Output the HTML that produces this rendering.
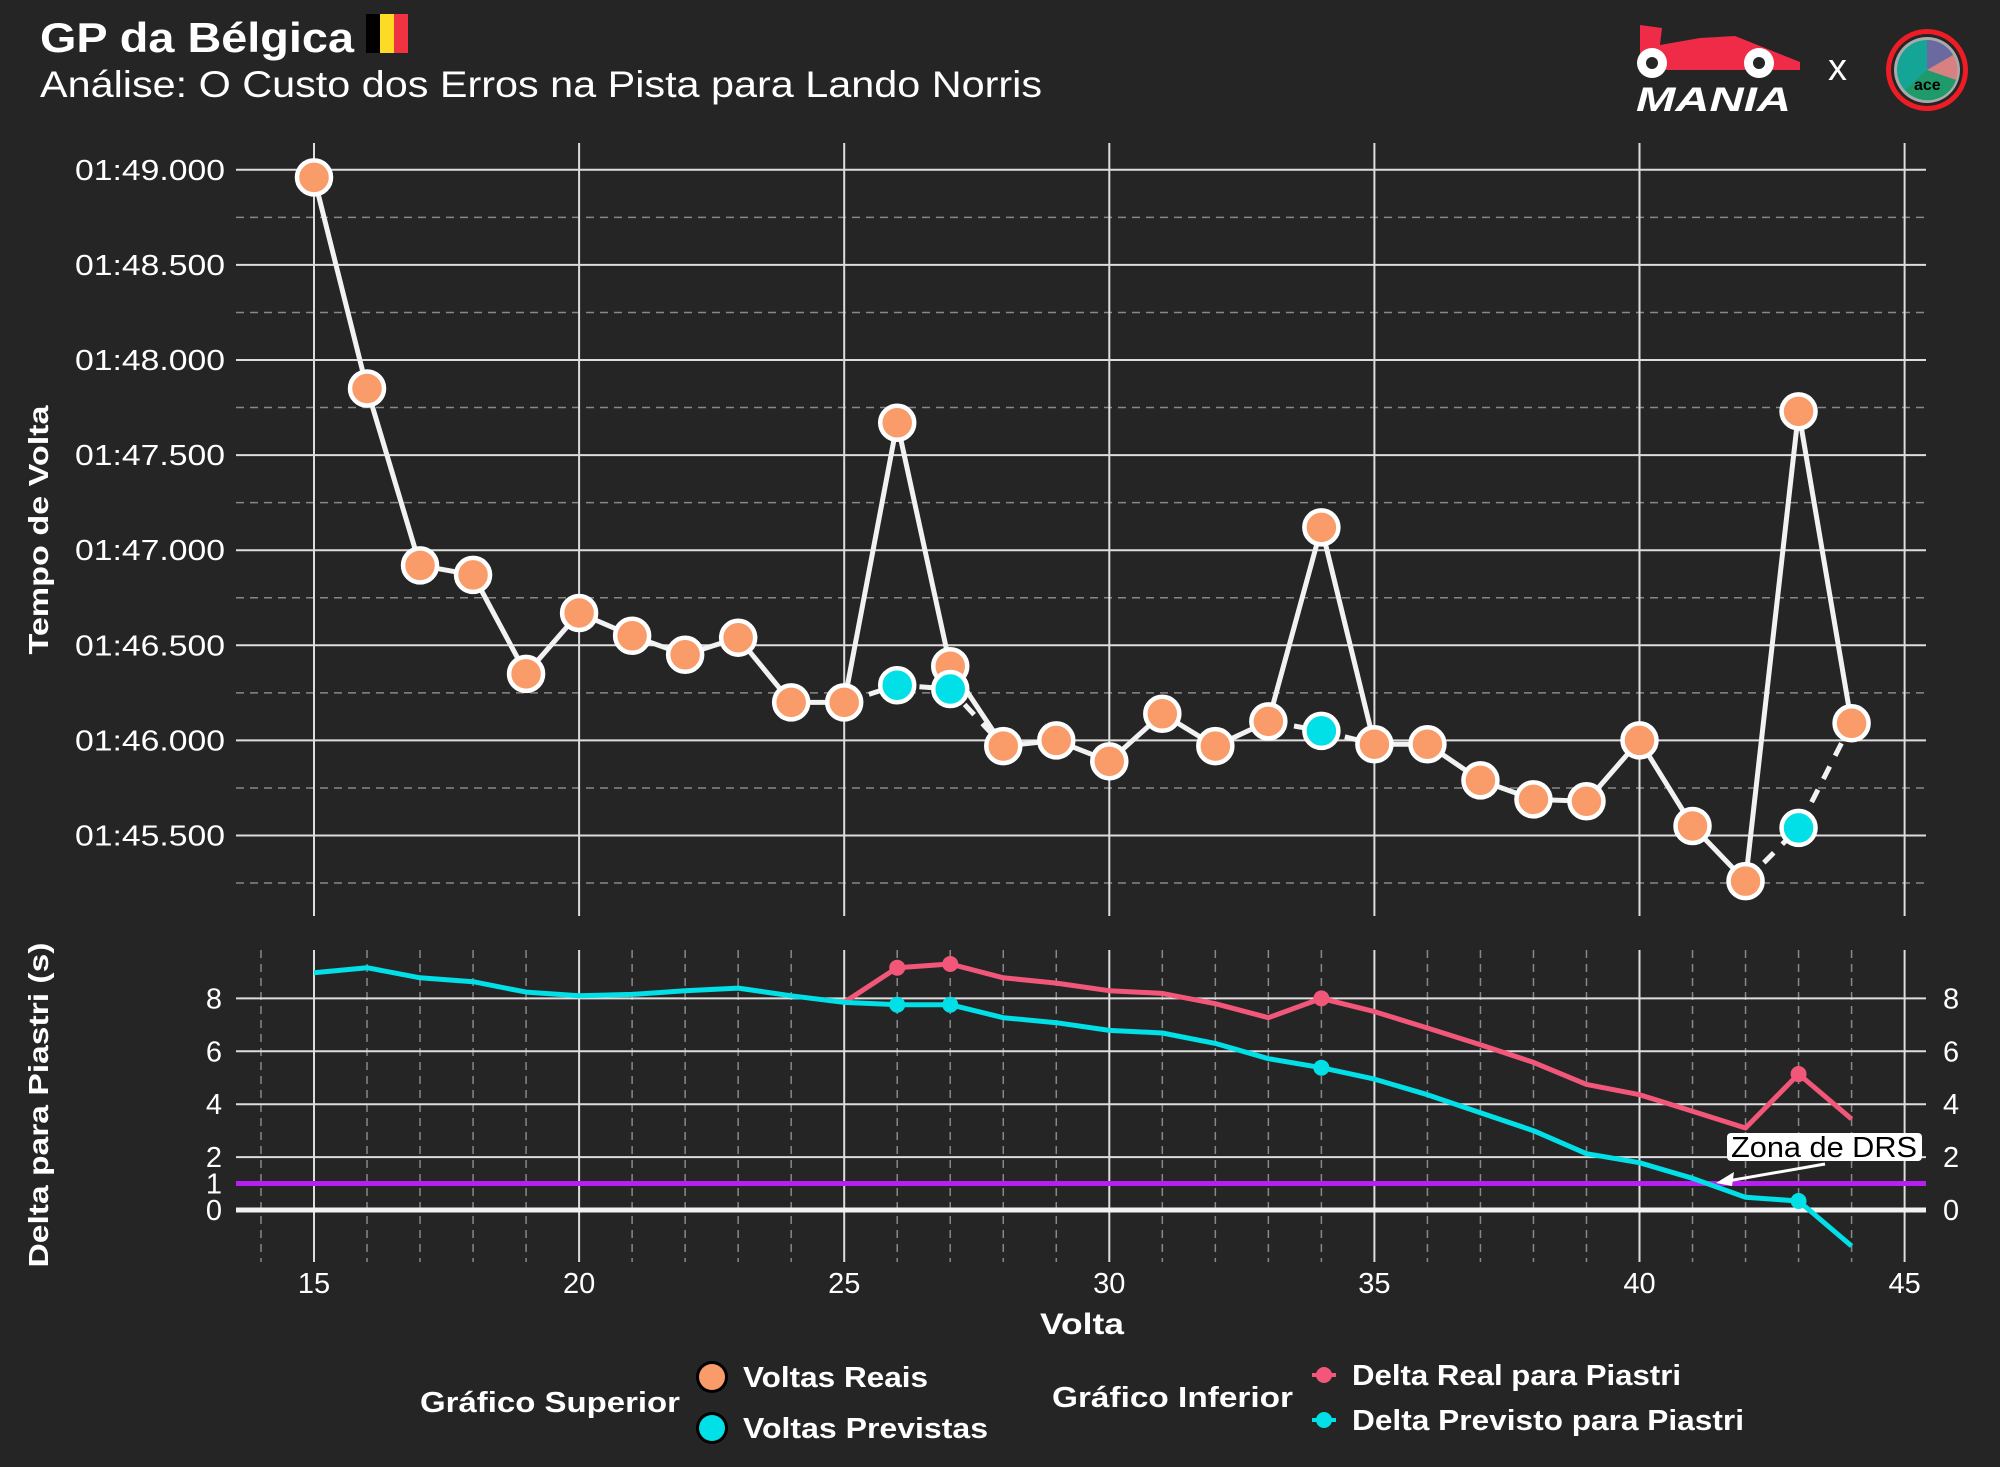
<!DOCTYPE html>
<html><head><meta charset="utf-8">
<style>
html,body{margin:0;padding:0;background:#252525;}
svg{display:block;font-family:"Liberation Sans","DejaVu Sans",sans-serif;}
</style></head><body>
<svg id="s" width="2000" height="1467" viewBox="0 0 2000 1467" xmlns="http://www.w3.org/2000/svg">
<rect width="2000" height="1467" fill="#252525"/>
<text x="40" y="52" font-size="42" font-weight="bold" fill="#fff" textLength="314" lengthAdjust="spacingAndGlyphs">GP da Bélgica</text>
<rect x="366" y="14" width="14" height="39" fill="#000"/><rect x="380" y="14" width="14" height="39" fill="#fdda24"/><rect x="394" y="14" width="14" height="39" fill="#ef3340"/>
<text x="40" y="97" font-size="37" fill="#fff" textLength="1002" lengthAdjust="spacingAndGlyphs">Análise: O Custo dos Erros na Pista para Lando Norris</text>
<g>
<path d="M1640 25 L1662 28 L1660 45 L1700 38 L1735 36 L1770 50 L1800 62 L1800 70 L1640 70 Z" fill="#ef2b48"/>
<circle cx="1652" cy="63" r="15" fill="#fff"/><circle cx="1652" cy="63" r="6" fill="#252525"/>
<circle cx="1759" cy="63" r="15" fill="#fff"/><circle cx="1759" cy="63" r="6" fill="#252525"/>
<text x="1636" y="111" font-size="34" font-weight="bold" font-style="italic" fill="#fff" textLength="155" lengthAdjust="spacingAndGlyphs">MANIA</text>
<text x="1828" y="80" font-size="38" fill="#fff">x</text>
<circle cx="1927" cy="70" r="41" fill="#ee1c25"/><circle cx="1927" cy="70" r="36" fill="#252525"/>
<circle cx="1927" cy="70" r="33" fill="#aaa"/><circle cx="1927" cy="70" r="30" fill="#14a597"/>
<path d="M1927 70 L1927 40 A30 30 0 0 1 1953 55 Z" fill="#6a6aa0"/>
<path d="M1927 70 L1953 55 A30 30 0 0 1 1956 80 Z" fill="#d98080"/>
<path d="M1927 70 L1956 80 A30 30 0 0 1 1905 90 Z" fill="#1f9a6a"/>
<text x="1914" y="90" font-size="16" font-weight="bold" fill="#000">ace</text>
</g>
<g id="g"></g>
<text transform="translate(48,530) rotate(-90)" text-anchor="middle" font-size="28" font-weight="bold" fill="#fff" textLength="249" lengthAdjust="spacingAndGlyphs">Tempo de Volta</text>
<text transform="translate(48,1105) rotate(-90)" text-anchor="middle" font-size="28" font-weight="bold" fill="#fff" textLength="325" lengthAdjust="spacingAndGlyphs">Delta para Piastri (s)</text>
<text x="1082" y="1334" text-anchor="middle" font-size="30" font-weight="bold" fill="#fff" textLength="84" lengthAdjust="spacingAndGlyphs">Volta</text>
<text x="420" y="1412" font-size="29" font-weight="bold" fill="#fff" textLength="260" lengthAdjust="spacingAndGlyphs">Gráfico Superior</text>
<circle cx="712" cy="1377" r="16" fill="#000"/><circle cx="712" cy="1377" r="13" fill="#f99c6a"/>
<text x="743" y="1387" font-size="29" font-weight="bold" fill="#fff" textLength="185" lengthAdjust="spacingAndGlyphs">Voltas Reais</text>
<circle cx="712" cy="1428" r="16" fill="#000"/><circle cx="712" cy="1428" r="13" fill="#00e0e6"/>
<text x="743" y="1438" font-size="29" font-weight="bold" fill="#fff" textLength="245" lengthAdjust="spacingAndGlyphs">Voltas Previstas</text>
<text x="1052" y="1407" font-size="29" font-weight="bold" fill="#fff" textLength="241" lengthAdjust="spacingAndGlyphs">Gráfico Inferior</text>
<line x1="1312" y1="1375" x2="1336" y2="1375" stroke="#f2577a" stroke-width="4"/><circle cx="1324" cy="1375" r="8" fill="#f2577a"/>
<text x="1352" y="1385" font-size="29" font-weight="bold" fill="#fff" textLength="329" lengthAdjust="spacingAndGlyphs">Delta Real para Piastri</text>
<line x1="1312" y1="1420" x2="1336" y2="1420" stroke="#00e0e6" stroke-width="4"/><circle cx="1324" cy="1420" r="8" fill="#00e0e6"/>
<text x="1352" y="1430" font-size="29" font-weight="bold" fill="#fff" textLength="392" lengthAdjust="spacingAndGlyphs">Delta Previsto para Piastri</text>
</svg>
<script>
var g=document.getElementById('g'),h='';
function X(l){return 314+(l-15)*53.02;}
function YT(t){return 930.6-190.2*t;}
function YB(v){return 1210-26.45*v;}
for(var i=0;i<8;i++){var y=YT(0.5+i*0.5);h+='<line x1="236" x2="1926" y1="'+y+'" y2="'+y+'" stroke="#ddd" stroke-width="2"/>';
var s=(0.5+i*0.5);var tl='01:4'+(5+Math.floor(s))+'.'+(s%1?'500':'000');
h+='<text x="225" y="'+(y+10)+'" text-anchor="end" font-size="29" fill="#fff" textLength="150" lengthAdjust="spacingAndGlyphs">'+tl+'</text>';}
for(var i=0;i<8;i++){var y=YT(0.25+i*0.5);h+='<line x1="236" x2="1926" y1="'+y+'" y2="'+y+'" stroke="#888" stroke-width="1.5" stroke-dasharray="8,6"/>';}
for(var l=15;l<=45;l+=5){h+='<line x1="'+X(l)+'" x2="'+X(l)+'" y1="143" y2="916" stroke="#ddd" stroke-width="2"/>';}
for(var l=14;l<=44;l++){if(l%5)h+='<line x1="'+X(l)+'" x2="'+X(l)+'" y1="950" y2="1262" stroke="#888" stroke-width="1.5" stroke-dasharray="8,6"/>';}
for(var l=15;l<=45;l+=5){h+='<line x1="'+X(l)+'" x2="'+X(l)+'" y1="950" y2="1262" stroke="#ddd" stroke-width="2"/>';
h+='<text x="'+X(l)+'" y="1293" text-anchor="middle" font-size="29" fill="#fff">'+l+'</text>';}
[2,4,6,8].forEach(function(v){var y=YB(v);h+='<line x1="236" x2="1926" y1="'+y+'" y2="'+y+'" stroke="#ddd" stroke-width="2"/>';});
h+='<line x1="236" x2="1926" y1="'+YB(0)+'" y2="'+YB(0)+'" stroke="#f2f2f2" stroke-width="5"/>';
[0,1,2,4,6,8].forEach(function(v){var y=YB(v)+10;h+='<text x="222" y="'+y+'" text-anchor="end" font-size="29" fill="#fff">'+v+'</text>';
if(v!=1)h+='<text x="1943" y="'+y+'" font-size="29" fill="#fff">'+v+'</text>';});
h+='<line x1="236" x2="1926" y1="'+YB(1)+'" y2="'+YB(1)+'" stroke="#b61ef2" stroke-width="5"/>';
var real=[3.96,2.85,1.92,1.87,1.35,1.67,1.55,1.45,1.54,1.20,1.20,2.67,1.39,0.97,1.00,0.89,1.14,0.97,1.10,2.12,0.98,0.98,0.79,0.69,0.68,1.00,0.55,0.26,2.73,1.09];
var pred={26:1.29,27:1.27,34:1.05,43:0.54};
function pts(a){return a.map(function(p){return X(p[0]).toFixed(1)+','+YT(p[1]).toFixed(1)}).join(' ');}
var dash=[[[25,1.20],[26,1.29],[27,1.27],[28,0.97]],[[33,1.10],[34,1.05],[35,0.98]],[[42,0.26],[43,0.54],[44,1.09]]];
dash.forEach(function(d){h+='<polyline points="'+pts(d)+'" fill="none" stroke="#f2f2f2" stroke-width="5" stroke-dasharray="14,12"/>';});
var rp=real.map(function(v,i){return [15+i,v]});
h+='<polyline points="'+pts(rp)+'" fill="none" stroke="#f2f2f2" stroke-width="5" stroke-linejoin="round"/>';
rp.forEach(function(p){h+='<circle cx="'+X(p[0])+'" cy="'+YT(p[1])+'" r="17" fill="#f99c6a" stroke="#fff" stroke-width="4.5"/>';});
for(var k in pred){h+='<circle cx="'+X(+k)+'" cy="'+YT(pred[k])+'" r="17" fill="#00e0e6" stroke="#fff" stroke-width="4.5"/>';}
var cy=[8.97,9.16,8.78,8.63,8.24,8.10,8.15,8.29,8.39,8.1,7.85,7.76,7.76,7.27,7.08,6.79,6.69,6.3,5.72,5.38,4.95,4.36,3.68,3.0,2.13,1.79,1.2,0.48,0.34,-1.36];
var rd=[7.85,9.16,9.3,8.78,8.58,8.29,8.19,7.8,7.27,8.0,7.5,6.88,6.25,5.58,4.75,4.36,3.73,3.1,5.14,3.44];
function pb(a,s){return a.map(function(v,i){return X(s+i).toFixed(1)+','+YB(v).toFixed(1)}).join(' ');}
h+='<polyline points="'+pb(rd,25)+'" fill="none" stroke="#f2577a" stroke-width="5" stroke-linejoin="round"/>';
h+='<polyline points="'+pb(cy,15)+'" fill="none" stroke="#00e0e6" stroke-width="5" stroke-linejoin="round"/>';
[26,27,34,43].forEach(function(l){h+='<circle cx="'+X(l)+'" cy="'+YB(rd[l-25])+'" r="8" fill="#f2577a"/>';h+='<circle cx="'+X(l)+'" cy="'+YB(cy[l-15])+'" r="8" fill="#00e0e6"/>';});
h+='<line x1="1825" y1="1164" x2="1722" y2="1182" stroke="#fff" stroke-width="3"/><path d="M1716 1183 L1734 1172 L1732 1186 Z" fill="#fff"/>';
h+='<rect x="1727" y="1133" width="195" height="28" rx="4" fill="#fff"/><text x="1824" y="1157" text-anchor="middle" font-size="29" fill="#000" textLength="186" lengthAdjust="spacingAndGlyphs">Zona de DRS</text>';
g.innerHTML=h;
</script>
</body></html>
